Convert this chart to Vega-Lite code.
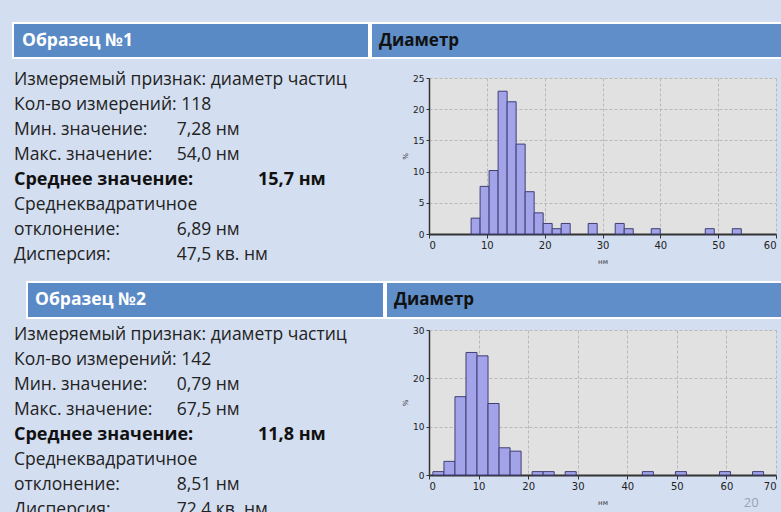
{
  "$schema": "https://vega.github.io/schema/vega-lite/v6.json",
  "background": "#d3def0",
  "padding": {"left": 12, "top": 22, "right": 0, "bottom": 0},
  "spacing": 13,
  "config": {
    "view": {"stroke": null},
    "font": "Open Sans",
    "concat": {"spacing": 0},
    "axis": {"labelFont": "DejaVu Sans", "titleFont": "DejaVu Sans"}
  },
  "datasets": {
    "headers": [
      {"id": "1a", "label": "Образец №1"},
      {"id": "1b", "label": "Диаметр"},
      {"id": "2a", "label": "Образец №2"},
      {"id": "2b", "label": "Диаметр"}
    ],
    "info": [
      {"sample": 1, "line": 1, "tab": 0, "text": "Измеряемый признак: диаметр частиц"},
      {"sample": 1, "line": 2, "tab": 0, "text": "Кол-во измерений: 118"},
      {"sample": 1, "line": 3, "tab": 0, "text": "Мин. значение:"},
      {"sample": 1, "line": 3, "tab": 2, "text": "7,28 нм"},
      {"sample": 1, "line": 4, "tab": 0, "text": "Макс. значение:"},
      {"sample": 1, "line": 4, "tab": 2, "text": "54,0 нм"},
      {"sample": 1, "line": 5, "tab": 0, "text": "Среднее значение:"},
      {"sample": 1, "line": 5, "tab": 3, "text": "15,7 нм"},
      {"sample": 1, "line": 6, "tab": 0, "text": "Среднеквадратичное"},
      {"sample": 1, "line": 7, "tab": 0, "text": "отклонение:"},
      {"sample": 1, "line": 7, "tab": 2, "text": "6,89 нм"},
      {"sample": 1, "line": 8, "tab": 0, "text": "Дисперсия:"},
      {"sample": 1, "line": 8, "tab": 2, "text": "47,5 кв. нм"},
      {"sample": 2, "line": 1, "tab": 0, "text": "Измеряемый признак: диаметр частиц"},
      {"sample": 2, "line": 2, "tab": 0, "text": "Кол-во измерений: 142"},
      {"sample": 2, "line": 3, "tab": 0, "text": "Мин. значение:"},
      {"sample": 2, "line": 3, "tab": 2, "text": "0,79 нм"},
      {"sample": 2, "line": 4, "tab": 0, "text": "Макс. значение:"},
      {"sample": 2, "line": 4, "tab": 2, "text": "67,5 нм"},
      {"sample": 2, "line": 5, "tab": 0, "text": "Среднее значение:"},
      {"sample": 2, "line": 5, "tab": 3, "text": "11,8 нм"},
      {"sample": 2, "line": 6, "tab": 0, "text": "Среднеквадратичное"},
      {"sample": 2, "line": 7, "tab": 0, "text": "отклонение:"},
      {"sample": 2, "line": 7, "tab": 2, "text": "8,51 нм"},
      {"sample": 2, "line": 8, "tab": 0, "text": "Дисперсия:"},
      {"sample": 2, "line": 8, "tab": 2, "text": "72,4 кв. нм"}
    ],
    "hist": [
      {"sample": 1, "bin_start": 7.28, "bin_end": 8.837, "pct": 2.54},
      {"sample": 1, "bin_start": 8.837, "bin_end": 10.395, "pct": 7.63},
      {"sample": 1, "bin_start": 10.395, "bin_end": 11.952, "pct": 10.17},
      {"sample": 1, "bin_start": 11.952, "bin_end": 13.509, "pct": 22.88},
      {"sample": 1, "bin_start": 13.509, "bin_end": 15.067, "pct": 21.19},
      {"sample": 1, "bin_start": 15.067, "bin_end": 16.624, "pct": 14.41},
      {"sample": 1, "bin_start": 16.624, "bin_end": 18.181, "pct": 6.78},
      {"sample": 1, "bin_start": 18.181, "bin_end": 19.739, "pct": 3.39},
      {"sample": 1, "bin_start": 19.739, "bin_end": 21.296, "pct": 1.69},
      {"sample": 1, "bin_start": 21.296, "bin_end": 22.853, "pct": 0.85},
      {"sample": 1, "bin_start": 22.853, "bin_end": 24.411, "pct": 1.69},
      {"sample": 1, "bin_start": 27.525, "bin_end": 29.083, "pct": 1.69},
      {"sample": 1, "bin_start": 32.197, "bin_end": 33.755, "pct": 1.69},
      {"sample": 1, "bin_start": 33.755, "bin_end": 35.312, "pct": 0.85},
      {"sample": 1, "bin_start": 38.427, "bin_end": 39.984, "pct": 0.85},
      {"sample": 1, "bin_start": 47.771, "bin_end": 49.328, "pct": 0.85},
      {"sample": 1, "bin_start": 52.443, "bin_end": 54.0, "pct": 0.85},
      {"sample": 2, "bin_start": 0.79, "bin_end": 3.014, "pct": 0.70},
      {"sample": 2, "bin_start": 3.014, "bin_end": 5.237, "pct": 2.82},
      {"sample": 2, "bin_start": 5.237, "bin_end": 7.461, "pct": 16.20},
      {"sample": 2, "bin_start": 7.461, "bin_end": 9.685, "pct": 25.35},
      {"sample": 2, "bin_start": 9.685, "bin_end": 11.908, "pct": 24.65},
      {"sample": 2, "bin_start": 11.908, "bin_end": 14.132, "pct": 14.79},
      {"sample": 2, "bin_start": 14.132, "bin_end": 16.356, "pct": 5.63},
      {"sample": 2, "bin_start": 16.356, "bin_end": 18.579, "pct": 4.93},
      {"sample": 2, "bin_start": 20.803, "bin_end": 23.027, "pct": 0.70},
      {"sample": 2, "bin_start": 23.027, "bin_end": 25.25, "pct": 0.70},
      {"sample": 2, "bin_start": 27.474, "bin_end": 29.698, "pct": 0.70},
      {"sample": 2, "bin_start": 43.04, "bin_end": 45.263, "pct": 0.70},
      {"sample": 2, "bin_start": 49.711, "bin_end": 51.934, "pct": 0.70},
      {"sample": 2, "bin_start": 58.605, "bin_end": 60.829, "pct": 0.70},
      {"sample": 2, "bin_start": 65.276, "bin_end": 67.5, "pct": 0.70}
    ],
    "page": [{"label": "20", "x": 65, "y": -5.8}]
  },
  "vconcat": [
    {
      "spacing": 12,
      "vconcat": [
        {
          "hconcat": [
            {
              "width": 356, "height": 35,
              "view": {"fill": "#5a8ac6", "stroke": "white", "strokeWidth": 2},
              "data": {"name": "headers"},
              "transform": [{"filter": "datum.id == '1a'"}],
              "mark": {"type": "text", "align": "left", "baseline": "middle", "dx": 9, "fontSize": 17.5, "fontWeight": "bold", "color": "white"},
              "encoding": {
                "x": {"field": "label", "type": "nominal", "scale": {"type": "point", "padding": 0, "align": 0}, "axis": null},
                "text": {"field": "label"}
              }
            },
            {
              "width": 413, "height": 35,
              "view": {"fill": "#5f8ec9", "stroke": "white", "strokeWidth": 2},
              "data": {"name": "headers"},
              "transform": [{"filter": "datum.id == '1b'"}],
              "mark": {"type": "text", "align": "left", "baseline": "middle", "dx": 8, "fontSize": 17, "fontWeight": "bold", "color": "#111111"},
              "encoding": {
                "x": {"field": "label", "type": "nominal", "scale": {"type": "point", "padding": 0, "align": 0}, "axis": null},
                "text": {"field": "label"}
              }
            }
          ]
        },
        {
          "hconcat": [
            {
              "width": 388, "height": 190,
              "data": {"name": "info"},
              "transform": [{"filter": "datum.sample == 1"}],
              "encoding": {
                "x": {"field": "tab", "type": "quantitative", "scale": {"domain": [0, 3], "range": [1, 245]}, "axis": null},
                "y": {"field": "line", "type": "quantitative", "scale": {"domain": [1, 8], "range": [2, 177]}, "axis": null},
                "text": {"field": "text"}
              },
              "layer": [
                {"transform": [{"filter": "datum.line != 5"}], "mark": {"type": "text", "align": "left", "baseline": "middle", "fontSize": 17.5, "color": "#222222"}},
                {"transform": [{"filter": "datum.line == 5"}], "mark": {"type": "text", "align": "left", "baseline": "middle", "fontSize": 18, "fontWeight": "bold", "color": "#111111"}}
              ]
            },
            {
              "width": 347, "height": 156,
              "view": {"fill": "#e1e1e1", "stroke": null},
              "data": {"name": "hist"},
              "transform": [{"filter": "datum.sample == 1"}],
              "mark": {"type": "rect", "fill": "#a3a3ea", "stroke": "#3f3f74", "strokeWidth": 1},
              "encoding": {
                "x": {"field": "bin_start", "type": "quantitative", "scale": {"domain": [0, 60], "nice": false},
                  "axis": {"values": [0, 10, 20, 30, 40, 50, 60], "title": "нм", "titleFontSize": 7, "titleFontWeight": "normal", "titleColor": "#333333", "titlePadding": 7, "labelFontSize": 10, "labelColor": "#222222", "domainColor": "#333333", "domainWidth": 2, "tickColor": "#333333", "tickSize": 4, "grid": true, "gridDash": [3, 2], "gridColor": "#b8b8b8"}},
                "x2": {"field": "bin_end"},
                "y": {"field": "pct", "type": "quantitative", "scale": {"domain": [0, 25], "nice": false},
                  "axis": {"values": [0, 5, 10, 15, 20, 25], "title": "%", "titleFontSize": 7, "titleFontWeight": "normal", "titleColor": "#333333", "titlePadding": 4, "labelFontSize": 9, "labelColor": "#222222", "domainColor": "#333333", "domainWidth": 1.5, "tickColor": "#333333", "tickSize": 3, "grid": true, "gridDash": [3, 2], "gridColor": "#b8b8b8"}},
                "y2": {"datum": 0}
              }
            }
          ]
        }
      ]
    },
    {
      "spacing": 7,
      "vconcat": [
        {
          "hconcat": [
            {
              "width": 13, "height": 36,
              "data": {"values": []},
              "mark": {"type": "rect"},
              "encoding": {}
            },
            {
              "width": 357, "height": 36,
              "view": {"fill": "#5a8ac6", "stroke": "white", "strokeWidth": 2},
              "data": {"name": "headers"},
              "transform": [{"filter": "datum.id == '2a'"}],
              "mark": {"type": "text", "align": "left", "baseline": "middle", "dx": 8, "fontSize": 17.5, "fontWeight": "bold", "color": "white"},
              "encoding": {
                "x": {"field": "label", "type": "nominal", "scale": {"type": "point", "padding": 0, "align": 0}, "axis": null},
                "text": {"field": "label"}
              }
            },
            {
              "width": 399, "height": 36,
              "view": {"fill": "#5f8ec9", "stroke": "white", "strokeWidth": 2},
              "data": {"name": "headers"},
              "transform": [{"filter": "datum.id == '2b'"}],
              "mark": {"type": "text", "align": "left", "baseline": "middle", "dx": 8, "fontSize": 17, "fontWeight": "bold", "color": "#111111"},
              "encoding": {
                "x": {"field": "label", "type": "nominal", "scale": {"type": "point", "padding": 0, "align": 0}, "axis": null},
                "text": {"field": "label"}
              }
            }
          ]
        },
        {
          "hconcat": [
            {
              "width": 388, "height": 190,
              "data": {"name": "info"},
              "transform": [{"filter": "datum.sample == 2"}],
              "encoding": {
                "x": {"field": "tab", "type": "quantitative", "scale": {"domain": [0, 3], "range": [1, 245]}, "axis": null},
                "y": {"field": "line", "type": "quantitative", "scale": {"domain": [1, 8], "range": [5, 180]}, "axis": null},
                "text": {"field": "text"}
              },
              "layer": [
                {"transform": [{"filter": "datum.line != 5"}], "mark": {"type": "text", "align": "left", "baseline": "middle", "fontSize": 17.5, "color": "#222222"}},
                {"transform": [{"filter": "datum.line == 5"}], "mark": {"type": "text", "align": "left", "baseline": "middle", "fontSize": 18, "fontWeight": "bold", "color": "#111111"}}
              ]
            },
            {
              "width": 347, "height": 145,
              "view": {"fill": "#e1e1e1", "stroke": null},
              "layer": [
                {
                  "data": {"name": "hist"},
                  "transform": [{"filter": "datum.sample == 2"}],
                  "mark": {"type": "rect", "fill": "#a3a3ea", "stroke": "#3f3f74", "strokeWidth": 1},
                  "encoding": {
                    "x": {"field": "bin_start", "type": "quantitative", "scale": {"domain": [0, 70], "nice": false},
                      "axis": {"values": [0, 10, 20, 30, 40, 50, 60, 70], "title": "нм", "titleFontSize": 7, "titleFontWeight": "normal", "titleColor": "#333333", "titlePadding": 7, "labelFontSize": 10, "labelColor": "#222222", "domainColor": "#333333", "domainWidth": 2, "tickColor": "#333333", "tickSize": 4, "grid": true, "gridDash": [3, 2], "gridColor": "#b8b8b8"}},
                    "x2": {"field": "bin_end"},
                    "y": {"field": "pct", "type": "quantitative", "scale": {"domain": [0, 30], "nice": false},
                      "axis": {"values": [0, 5, 10, 15, 20, 25, 30], "title": "%", "titleFontSize": 7, "titleFontWeight": "normal", "titleColor": "#333333", "titlePadding": 4, "labelFontSize": 9, "labelColor": "#222222", "domainColor": "#333333", "domainWidth": 1.5, "tickColor": "#333333", "tickSize": 3, "grid": true, "gridDash": [3, 2], "gridColor": "#b8b8b8"}},
                    "y2": {"datum": 0}
                  }
                },
                {
                  "data": {"name": "page"},
                  "mark": {"type": "text", "fontSize": 13, "color": "#9aa3b5", "clip": false, "baseline": "middle"},
                  "encoding": {
                    "x": {"field": "x", "type": "quantitative"},
                    "y": {"field": "y", "type": "quantitative"},
                    "text": {"field": "label"}
                  }
                }
              ]
            }
          ]
        }
      ]
    }
  ]
}
